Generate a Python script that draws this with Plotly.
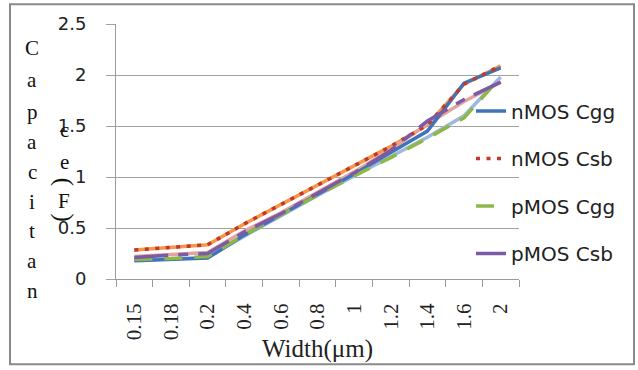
import plotly.graph_objects as go

# ---------------- data ----------------
widths = ["0.15", "0.18", "0.2", "0.4", "0.6", "0.8", "1", "1.2", "1.4", "1.6", "2"]
nmos_cgg = [0.18, 0.19, 0.205, 0.43, 0.63, 0.83, 1.03, 1.24, 1.45, 1.92, 2.07]
nmos_csb = [0.285, 0.31, 0.335, 0.54, 0.73, 0.92, 1.11, 1.30, 1.51, 1.91, 2.09]
pmos_cgg = [0.19, 0.20, 0.22, 0.43, 0.63, 0.82, 1.01, 1.19, 1.38, 1.58, 1.98]
pmos_csb = [0.21, 0.235, 0.25, 0.46, 0.64, 0.84, 1.04, 1.26, 1.55, 1.76, 1.93]
# extra (unlabelled) series visible under the labelled ones
extra_orange = [0.285, 0.31, 0.335, 0.54, 0.73, 0.92, 1.11, 1.30, 1.51, 1.91, 2.09]
extra_lightblue = [0.185, 0.195, 0.21, 0.42, 0.62, 0.82, 1.01, 1.20, 1.39, 1.60, 1.98]
extra_pink = [0.22, 0.24, 0.26, 0.47, 0.65, 0.85, 1.05, 1.27, 1.52, 1.74, 1.93]

y_ticks = [0, 0.5, 1, 1.5, 2, 2.5]
y_tick_text = ["0", "0.5", "1", "1.5", "2", "2.5"]

# ---------------- geometry ----------------
W, H = 638, 370
L, R, T, B = 116, 519, 24, 281  # plot area in pixels


def px(x):
    return (x - L) / (R - L)


def py(y):
    return (B - y) / (B - T)


fig = go.Figure()
LW = 3.5

fig.add_trace(go.Scatter(x=widths, y=extra_orange, mode="lines", showlegend=False,
                         line=dict(color="#F79646", width=LW), hoverinfo="skip"))
fig.add_trace(go.Scatter(x=widths, y=extra_lightblue, mode="lines", showlegend=False,
                         line=dict(color="#9DB9E0", width=LW), hoverinfo="skip"))
fig.add_trace(go.Scatter(x=widths, y=extra_pink, mode="lines", showlegend=False,
                         line=dict(color="#E3A3A1", width=LW), hoverinfo="skip"))

fig.add_trace(go.Scatter(x=widths, y=nmos_cgg, mode="lines", name="nMOS Cgg", legendgroup="a",
                         line=dict(color="#3F74B8", width=LW)))
fig.add_trace(go.Scatter(x=widths, y=nmos_csb, mode="lines", name="nMOS Csb", legendgroup="b",
                         line=dict(color="#C0392B", width=LW, dash="4px,6.5px")))
fig.add_trace(go.Scatter(x=widths, y=pmos_cgg, mode="lines", name="pMOS Cgg", legendgroup="c",
                         line=dict(color="#8DB848", width=LW, dash="18px,12px")))
fig.add_trace(go.Scatter(x=widths, y=pmos_csb, mode="lines", name="pMOS Csb", legendgroup="d",
                         line=dict(color="#7B5AA6", width=LW, dash="34px,10px,10px,10px")))

serif = "Liberation Serif"
sans = "DejaVu Sans"

# vertical stacked y-axis title (as in the original)
annotations = []
col1 = [("C", 48), ("a", 80), ("p", 113), ("a", 143), ("c", 173), ("i", 203),
        ("t", 233), ("a", 263), ("n", 293)]
for ch, yy in col1:
    annotations.append(dict(text=ch, x=px(32), y=py(yy), xref="paper", yref="paper",
                            showarrow=False, xanchor="center", yanchor="middle",
                            font=dict(family=serif, size=21, color="#111")))
col2 = [("c", 131, 0, 21), ("e", 163, 0, 21), ("(", 183, 90, 25), ("F", 202, 0, 21),
        (")", 219, 90, 25)]
for ch, yy, ang, sz in col2:
    annotations.append(dict(text=ch, x=px(64), y=py(yy), xref="paper", yref="paper",
                            showarrow=False, xanchor="center", yanchor="middle", textangle=ang,
                            font=dict(family=serif, size=sz, color="#111")))

fig.update_layout(
    width=W, height=H,
    margin=dict(l=L, r=W - R, t=T, b=H - B, pad=0),
    paper_bgcolor="white", plot_bgcolor="white",
    showlegend=True,
    legend=dict(x=px(471), y=py(92), xanchor="left", yanchor="top",
                bgcolor="rgba(0,0,0,0)", borderwidth=0,
                font=dict(family=sans, size=20, color="#222"),
                tracegroupgap=18.5, itemwidth=30),
    annotations=annotations,
    shapes=[dict(type="rect", xref="paper", yref="paper",
                 x0=px(10), x1=px(634), y0=py(367), y1=py(4),
                 line=dict(color="#8A8A8A", width=2), layer="below")],
    xaxis=dict(type="category", categoryorder="array", categoryarray=widths,
               range=[-0.5, len(widths) - 0.5],
               showgrid=False, showline=True, linecolor="#9A9A9A", linewidth=1,
               ticks="outside", ticklen=7, tickcolor="#9A9A9A", tickson="boundaries",
               tickangle=-90, tickfont=dict(family=serif, size=21, color="#222"),
               ticklabelstandoff=15,
               title=dict(text="Width(μm)", font=dict(family=serif, size=25, color="#222"),
                          standoff=0),
               zeroline=False, fixedrange=True),
    yaxis=dict(range=[0, 2.5], tickvals=y_ticks, ticktext=y_tick_text,
               showgrid=True, gridcolor="#A3A3A3", gridwidth=1,
               showline=True, linecolor="#9A9A9A", linewidth=1,
               ticks="outside", ticklen=9, tickcolor="#A3A3A3",
               tickfont=dict(family=sans, size=18, color="#222"),
               ticklabelstandoff=16, zeroline=False, fixedrange=True),
)

fig.write_html("out.html")
